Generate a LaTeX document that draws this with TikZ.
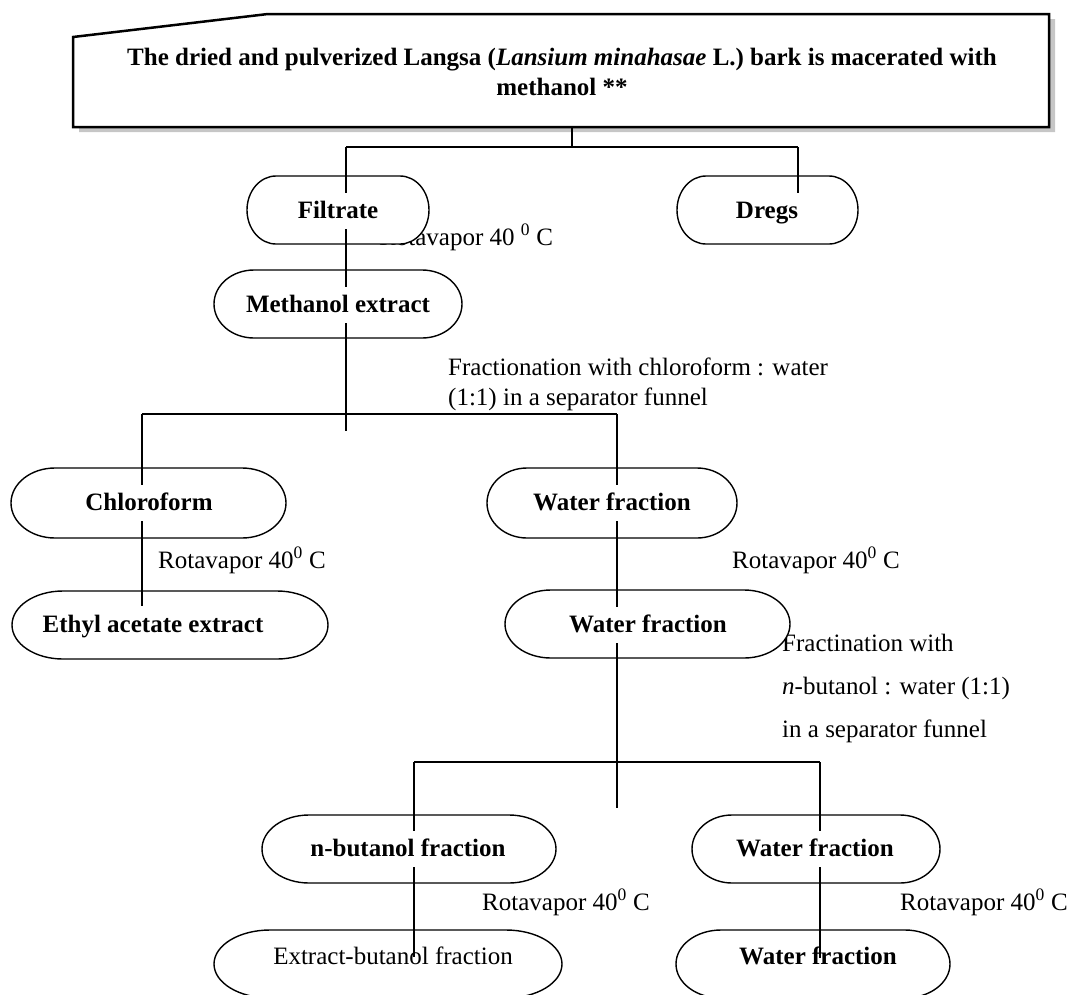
\documentclass[tikz,border=0pt]{standalone}
\usepackage{fontspec}
\setmainfont{Liberation Serif}
\usetikzlibrary{calc}
\tikzset{
  txt/.style={font=\fontsize{25}{30}\selectfont, inner sep=0pt},
  bold/.style={inner sep=0pt, font=\fontsize{25}{30}\selectfont\bfseries},
  cover/.style={fill=white, inner xsep=3pt, inner ysep=0pt, text height=25pt, text depth=11pt},
  conn/.style={line width=1.3pt},
  capline/.style={line width=1.4pt, fill=white},
  shell/.style={inner sep=0pt, outer sep=0pt, draw=none},
}
\newcommand\capsule[6]{%
  \node[shell, minimum width=#4pt, minimum height=#5pt] (#1) at (#2,-#3) {};
  \draw[capline] ([xshift=#6pt]#1.north west) -- ([xshift=-#6pt]#1.north east)
     arc[start angle=90, end angle=-90, x radius=#6pt, y radius=#5pt/2]
     -- ([xshift=#6pt]#1.south west)
     arc[start angle=270, end angle=90, x radius=#6pt, y radius=#5pt/2] -- cycle;
}
\begin{document}
\begin{tikzpicture}[x=1pt,y=1pt]
\useasboundingbox (0,0) rectangle (1069,-994);
% top box with shadow
\fill[gray!45] (79,-42) -- (274,-19) -- (1055,-19) -- (1055,-132) -- (79,-132) -- cycle;
\draw[line width=2.5pt, fill=white] (73,-37) -- (268,-14) -- (1049,-14) -- (1049,-127) -- (73,-127) -- cycle;
\node[bold, align=center] (title) at (562,-72) {The dried and pulverized Langsa (\textit{Lansium minahasae} L.) bark is macerated with\\methanol **};
\coordinate (boxb) at (572,-127);
% labels
\node[txt, anchor=base west] (rot1) at (379,-245) {Rotavapor 40 \textsuperscript{0} C};
\node[txt, anchor=base west] (rot2) at (158,-568) {Rotavapor 40\textsuperscript{0} C};
\node[txt, anchor=base west] (rot3) at (732,-568) {Rotavapor 40\textsuperscript{0} C};
\node[txt, anchor=north west, align=left] (frac1) at (448,-358) {Fractionation with chloroform : water\\(1:1) in a separator funnel};
\node[txt, anchor=north west, align=left, font=\fontsize{25}{43}\selectfont] (frac2) at (782,-634) {Fractination with\\\textit{n}-butanol : water (1:1)\\in a separator funnel};
\node[txt, anchor=base west] (rot4) at (482,-910) {Rotavapor 40\textsuperscript{0} C};
\node[txt, anchor=base west] (rot5) at (900,-910) {Rotavapor 40\textsuperscript{0} C};
% capsules
\capsule{filtrate}{338}{210}{182}{68}{29}
\capsule{dregs}{767.5}{210}{181}{68}{29}
\capsule{methanol}{338}{304}{248}{68}{40}
\capsule{chloro}{148.5}{503}{275}{70}{44}
\capsule{wfa}{612}{503}{250}{70}{40}
\capsule{ethyl}{170}{625}{316}{68}{51}
\capsule{wfb}{647.5}{624}{285}{68}{46}
\capsule{nbut}{409}{849}{294}{68}{47}
\capsule{wfc}{816}{849}{248}{68}{40}
\capsule{extr}{388}{964}{348}{68}{56}
\capsule{wfd}{813}{964}{274}{68}{45}
% junctions
\coordinate (j0) at (572,-147);
\coordinate (jL) at (346,-147);
\coordinate (jR) at (798,-147);
\coordinate (m1) at (346,-431);
\coordinate (d1) at (798,-200);
\coordinate (k1) at (142,-414);
\coordinate (k2) at (617,-414);
\coordinate (e1) at (142,-606);
\coordinate (w1) at (617,-808);
\coordinate (b1) at (414,-762);
\coordinate (b2) at (820,-762);
\coordinate (x1) at (414,-957);
\coordinate (x2) at (820,-958);
% connectors
\draw[conn] (boxb) -- (j0);
\draw[conn] (jL) -- (jR);
\draw[conn] (jL) -- (m1);
\draw[conn] (jR) -- (d1);
\draw[conn] (k1) -- (k2);
\draw[conn] (k1) -- (e1);
\draw[conn] (k2) -- (w1);
\draw[conn] (b1) -- (b2);
\draw[conn] (b1) -- (x1);
\draw[conn] (b2) -- (x2);
% node texts
\node[bold, cover] (tfil) at (338,-211) {Filtrate};
\node[bold, cover] (tdre) at (767,-211) {Dregs};
\node[bold, cover] (tmet) at (338,-305) {Methanol extract};
\node[bold, cover] (tchl) at (149,-503) {Chloroform};
\node[bold, cover] (twfa) at (612,-503) {Water fraction};
\node[bold, cover] (teth) at (153,-625) {Ethyl acetate extract};
\node[bold, cover] (twfb) at (648,-625) {Water fraction};
\node[bold, cover] (tnbu) at (408,-849) {n-butanol fraction};
\node[bold, cover] (twfc) at (815,-849) {Water fraction};
\node[txt] (textr) at (393,-956) {Extract-butanol fraction};
\node[bold] (twfd) at (818,-956) {Water fraction};
\end{tikzpicture}
\end{document}
